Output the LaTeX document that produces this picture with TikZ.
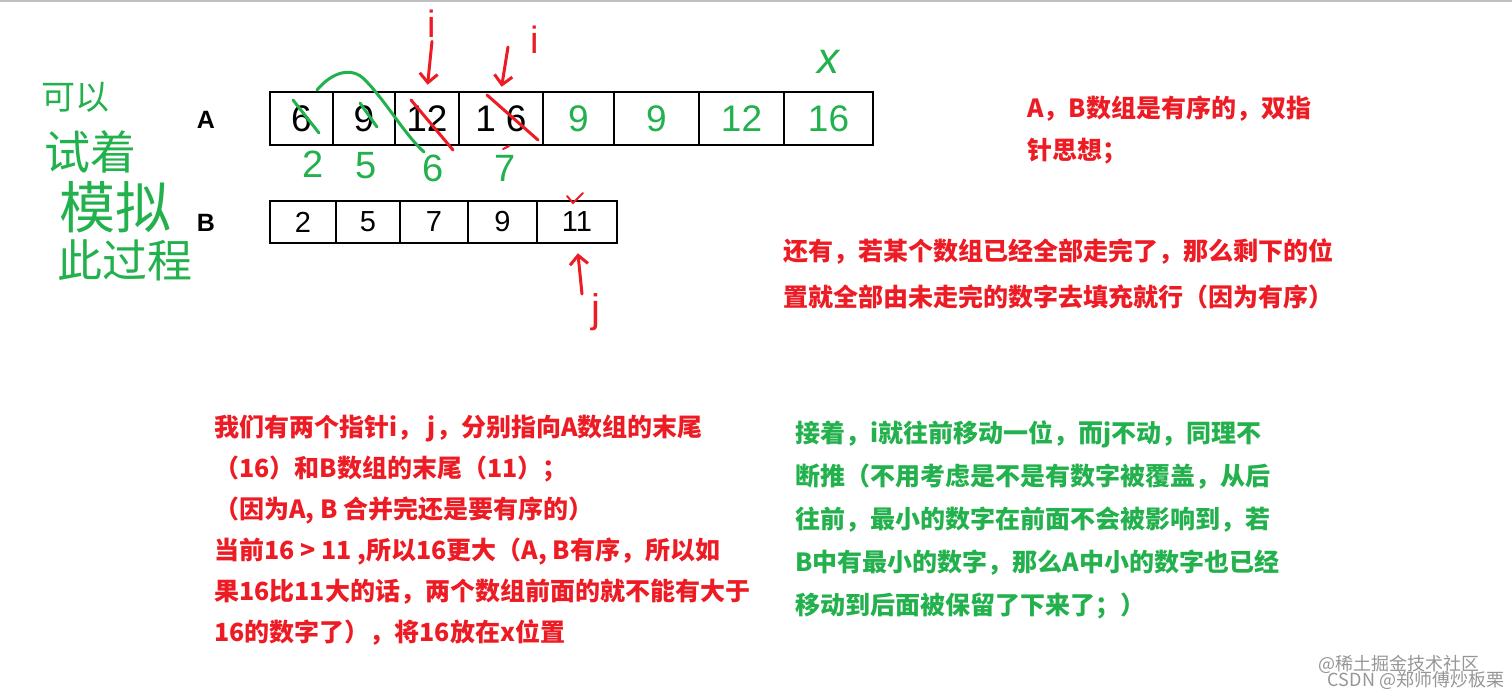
\documentclass[tikz,border=0pt]{standalone}
\usepackage{fontspec}
\setmainfont{Liberation Sans}
\newfontfamily\cjk{Noto Sans CJK SC}
\usetikzlibrary{arrows.meta}
\definecolor{hred}{RGB}{237,28,36}
\definecolor{hgreen}{RGB}{34,177,76}
\definecolor{wmark}{RGB}{150,150,150}

\begin{document}
\begin{tikzpicture}[x=1pt, y=-1pt,
  cellbox/.style={draw, line width=2.6pt, inner sep=0pt, minimum height=53pt, font=\fontsize{37}{37}\selectfont},
  bcell/.style={draw, line width=2.6pt, inner sep=0pt, minimum height=42pt, font=\fontsize{29}{29}\selectfont},
  redmark/.style={hred, line width=3pt, line cap=round},
  greenmark/.style={hgreen, line width=3pt, line cap=round},
  pointer/.style={hred, line width=3pt, line cap=round, -{Straight Barb[length=9pt, width=18pt, line width=3pt]}},
  hand/.style={text=hgreen, inner sep=0pt, font=\cjk},
  note/.style={anchor=north west, align=left, inner sep=0pt, font=\cjk\bfseries\fontsize{25}{42}\selectfont}]

\fill[white] (0,0) rectangle (1512,697);
\useasboundingbox (0,0) rectangle (1512,697);
\draw[black!25, line width=2pt] (0,1) -- (1512,1);

% the two arrays
\node[font=\bfseries\fontsize{25}{25}\selectfont] (la) at (206,120) {A};
\node[font=\bfseries\fontsize{25}{25}\selectfont] (lb) at (206,223) {B};

\foreach \l/\r/\v/\c [count=\k] in {270/333/6/black, 333/395/9/black, 395/459/12/black,
    459/543/1\hspace{10pt}6/black, 543/614/9/hgreen, 614/699/9/hgreen, 699/784/12/hgreen, 784/873/16/hgreen}
  \node[cellbox, text=\c, minimum width=\r-\l] (a\k) at ({(\l+\r)/2},118.5) {\v};

\foreach \l/\r/\v [count=\k] in {270/336/2, 336/400/5, 400/468/7, 468/537/9, 537/617/11}
  \node[bcell, minimum width=\r-\l] (b\k) at ({(\l+\r)/2},222) {\v};

% crossed out
\draw[greenmark] (293,100) -- (319,133) ;
\draw[greenmark] (360,103) -- (377,127) ;
\draw[greenmark] (317,90) .. controls (332,72) and (352,66) .. (365,80) .. controls (385,100) and (405,135) .. (424,152) ;
\draw[redmark] (411,100) -- (453,150) ;
\draw[redmark] (487,95) -- (538,140) ;

% merged values written under A
\node[text=hgreen, font=\fontsize{38}{38}\selectfont] (g2) at (313,164) {2};
\node[text=hgreen, font=\fontsize{38}{38}\selectfont] (g5) at (366,166) {5};
\node[text=hgreen, font=\fontsize{38}{38}\selectfont] (g6) at (433,168) {6};
\node[text=hgreen, font=\fontsize{38}{38}\selectfont] (g7) at (505,168) {7};
\node[text=hgreen, font=\itshape\fontsize{44}{44}\selectfont] (x) at (828,62) {x};

% pointers
\node[text=hred, font=\fontsize{38}{38}\selectfont] (i1) at (432,24) {i};
\node[text=hred, font=\fontsize{38}{38}\selectfont] (i2) at (535,40) {i};
\coordinate (i2tail) at (508,47);
\draw[pointer, shorten >=6pt] (i1.south) -- (a3.north);
\draw[pointer, shorten >=4pt] (i2tail) -- (a4.north);
\draw[redmark, line width=2pt] (567,196) -- (573,203) -- (583,193) ;
\draw[redmark, line width=2pt] (503,149) -- (509,146) ;

\node[text=hred, font=\fontsize{40}{40}\selectfont] (j) at (596,312) {j};
\coordinate (jtail) at (582,294);
\draw[pointer, shorten >=9pt] (jtail) -- (b5.south);

% note on the left
\node[hand, font=\cjk\fontsize{34}{34}\selectfont] (h1) at (75,97) {可以};
\node[hand, font=\cjk\fontsize{46}{46}\selectfont] (h2) at (90,152) {试着};
\node[hand, font=\cjk\fontsize{56}{56}\selectfont] (h3) at (115,207) {模拟};
\node[hand, font=\cjk\fontsize{45}{45}\selectfont] (h4) at (125,260) {此过程};

% explanations
\node[note, text=hred] (t1) at (1027,96) {A，B数组是有序的，双指\\针思想；};
\node[note, text=hred, font=\cjk\bfseries\fontsize{25}{46}\selectfont] (t2) at (783,238)
  {还有，若某个数组已经全部走完了，那么剩下的位\\置就全部由未走完的数字去填充就行（因为有序）};
\node[note, text=hred, font=\cjk\bfseries\fontsize{25}{41}\selectfont] (t3) at (214,415)
  {我们有两个指针i， j，分别指向A数组的末尾\\（16）和B数组的末尾（11）；\\（因为A, B 合并完还是要有序的）\\当前16 > 11 ,所以16更大（A, B有序，所以如\\果16比11大的话，两个数组前面的就不能有大于\\16的数字了），将16放在x位置};
\node[note, text=hgreen, font=\cjk\bfseries\fontsize{25}{43}\selectfont] (t4) at (795,420)
  {接着，i就往前移动一位，而j不动，同理不\\断推（不用考虑是不是有数字被覆盖，从后\\往前，最小的数字在前面不会被影响到，若\\B中有最小的数字，那么A中小的数字也已经\\移动到后面被保留了下来了；）};

% watermark
\node[text=wmark, font=\cjk\fontsize{18}{18}\selectfont] (w1) at (1399,664) {@稀土掘金技术社区};
\node[text=wmark, font=\cjk\fontsize{18}{18}\selectfont] (w2) at (1416,680) {CSDN @郑师傅炒板栗};

\end{tikzpicture}
\end{document}
